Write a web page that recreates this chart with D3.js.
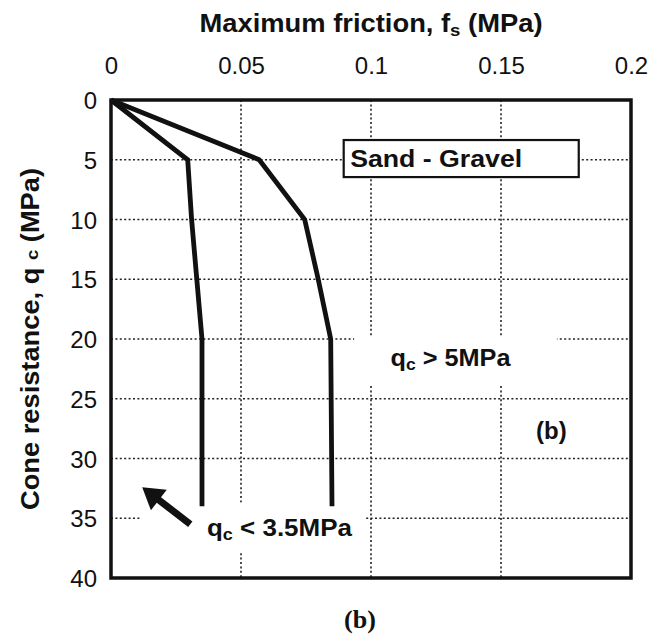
<!DOCTYPE html>
<html>
<head>
<meta charset="utf-8">
<script src="https://cdn.jsdelivr.net/npm/d3@7/dist/d3.min.js"></script>
<style>
  html, body { margin: 0; padding: 0; background: #fff; }
  svg { display: block; }
</style>
</head>
<body>
<svg id="chart" width="654" height="641"></svg>
<script>
// ---- data ----
const xTicks = [0, 0.05, 0.1, 0.15, 0.2];
const xTickLabels = ["0", "0.05", "0.1", "0.15", "0.2"];
const yTicks = [0, 5, 10, 15, 20, 25, 30, 35, 40];
const gridX = [0.05, 0.1, 0.15];
const gridY = [5, 10, 15, 20, 25, 30, 35];
// qc < 3.5 MPa curve: friction fs (MPa) vs cone resistance qc (MPa)
const lowFs = [0, 0.0295, 0.031, 0.033, 0.035, 0.035];
const lowQc = [0, 5, 10, 15, 20, 34];
// qc > 5 MPa curve
const highFs = [0, 0.057, 0.0745, 0.0797, 0.0845, 0.085];
const highQc = [0, 5, 10, 15, 20, 34];

const svg = d3.select("#chart");
const x = d3.scaleLinear().domain([0, 0.2]).range([111, 631]);
const y = d3.scaleLinear().domain([0, 40]).range([100, 578]);
const sans = "'Liberation Sans', Arial, Helvetica, sans-serif";

// grid
const grid = svg.append("g").attr("stroke", "#222").attr("stroke-width", 1.6)
  .attr("stroke-dasharray", "2,2.4");
grid.selectAll("line.gx").data(gridX).enter().append("line")
  .attr("x1", d => x(d)).attr("x2", d => x(d)).attr("y1", y(0)).attr("y2", y(40));
grid.selectAll("line.gy").data(gridY).enter().append("line")
  .attr("y1", d => y(d)).attr("y2", d => y(d)).attr("x1", x(0)).attr("x2", x(0.2));

// white backgrounds behind labels (break gridlines like the original)
const bgs = [
  {x0: 0.0935, x1: 0.1715, y0: 19.8, y1: 23.8},
  {x0: 0.0112, x1: 0.0975, y0: 33.7, y1: 37.8}
];
svg.selectAll("rect.bg").data(bgs).enter().append("rect")
  .attr("x", d => x(d.x0)).attr("y", d => y(d.y0))
  .attr("width", d => x(d.x1) - x(d.x0)).attr("height", d => y(d.y1) - y(d.y0))
  .attr("fill", "#fff");

// frame
svg.append("rect").attr("x", x(0)).attr("y", y(0))
  .attr("width", x(0.2) - x(0)).attr("height", y(40) - y(0))
  .attr("fill", "none").attr("stroke", "#111").attr("stroke-width", 3.5);

// curves
const line = d3.line().x(d => x(d[0])).y(d => y(d[1]));
[[lowFs, lowQc], [highFs, highQc]].forEach(([fs, qc]) => {
  svg.append("path").datum(fs.map((f, i) => [f, qc[i]]))
    .attr("d", line).attr("fill", "none").attr("stroke", "#111")
    .attr("stroke-width", 4.8).attr("stroke-linejoin", "miter");
});

// axes (labels only)
const xAxis = d3.axisTop(x).tickValues(xTicks).tickSize(0).tickPadding(0)
  .tickFormat((d, i) => xTickLabels[i]);
const gx = svg.append("g").attr("transform", "translate(0,74)").call(xAxis);
gx.select(".domain").remove();
gx.selectAll("text").attr("font-family", sans).attr("font-size", 24)
  .attr("fill", "#111").attr("dy", 0);

const yAxis = d3.axisLeft(y).tickValues(yTicks).tickSize(0).tickPadding(0);
const gy = svg.append("g").attr("transform", "translate(97,0)").call(yAxis);
gy.select(".domain").remove();
gy.selectAll("text").attr("font-family", sans).attr("font-size", 24)
  .attr("fill", "#111").attr("dy", "0.36em");

// axis titles
const xt = svg.append("text").attr("x", 371).attr("y", 32)
  .attr("text-anchor", "middle").attr("font-family", sans).attr("font-weight", "bold")
  .attr("font-size", 25).attr("fill", "#111")
  .attr("textLength", 343).attr("lengthAdjust", "spacingAndGlyphs");
xt.append("tspan").text("Maximum friction, f");
xt.append("tspan").attr("font-size", 17).attr("dy", 4).text("s");
xt.append("tspan").attr("dy", -4).text(" (MPa)");

const yt = svg.append("text").attr("transform", "translate(39,339) rotate(-90)")
  .attr("text-anchor", "middle").attr("font-family", sans).attr("font-weight", "bold")
  .attr("font-size", 25).attr("fill", "#111")
  .attr("textLength", 342).attr("lengthAdjust", "spacingAndGlyphs");
yt.append("tspan").text("Cone resistance, q ");
yt.append("tspan").attr("font-size", 17).attr("dy", -1).text("c");
yt.append("tspan").attr("dy", 1).text(" (MPa)");

// Sand - Gravel box
svg.append("rect").attr("x", x(0.0895)).attr("y", y(3.35))
  .attr("width", x(0.1799) - x(0.0895)).attr("height", y(6.45) - y(3.35))
  .attr("fill", "#fff").attr("stroke", "#111").attr("stroke-width", 2.2);
svg.append("text").attr("x", x(0.0920)).attr("y", y(5.62))
  .attr("font-family", sans).attr("font-weight", "bold").attr("font-size", 24)
  .attr("fill", "#111").attr("textLength", 172).attr("lengthAdjust", "spacingAndGlyphs")
  .text("Sand - Gravel");

// qc > 5MPa
const t1 = svg.append("text").attr("x", x(0.1075)).attr("y", y(22.3))
  .attr("font-family", sans).attr("font-weight", "bold").attr("font-size", 23)
  .attr("fill", "#111").attr("textLength", 120).attr("lengthAdjust", "spacingAndGlyphs");
t1.append("tspan").text("q");
t1.append("tspan").attr("font-size", 16).attr("dy", 4).text("c");
t1.append("tspan").attr("dy", -4).text(" > 5MPa");

// qc < 3.5MPa
const t2 = svg.append("text").attr("x", x(0.0369)).attr("y", y(36.5))
  .attr("font-family", sans).attr("font-weight", "bold").attr("font-size", 23)
  .attr("fill", "#111").attr("textLength", 145).attr("lengthAdjust", "spacingAndGlyphs");
t2.append("tspan").text("q");
t2.append("tspan").attr("font-size", 16).attr("dy", 4).text("c");
t2.append("tspan").attr("dy", -4).text(" < 3.5MPa");

// (b) inside
svg.append("text").attr("x", x(0.1635)).attr("y", y(28.4))
  .attr("font-family", sans).attr("font-weight", "bold").attr("font-size", 24)
  .attr("fill", "#111").text("(b)");

// arrow
const arrowTail = [0.0305, 35.5];
const arrowTip = [0.0120, 32.4];
const ax0 = x(arrowTail[0]), ay0 = y(arrowTail[1]);
const ax1 = x(arrowTip[0]), ay1 = y(arrowTip[1]);
const ang = Math.atan2(ay1 - ay0, ax1 - ax0);
const headLen = 21, headW = 13;
const bx = ax1 - headLen * Math.cos(ang), by = ay1 - headLen * Math.sin(ang);
svg.append("line").attr("x1", ax0).attr("y1", ay0).attr("x2", bx + 2 * Math.cos(ang)).attr("y2", by + 2 * Math.sin(ang))
  .attr("stroke", "#111").attr("stroke-width", 7);
svg.append("polygon").attr("fill", "#111").attr("points", [
  [ax1, ay1],
  [bx + headW * Math.sin(ang), by - headW * Math.cos(ang)],
  [bx - headW * Math.sin(ang), by + headW * Math.cos(ang)]
].map(p => p.join(",")).join(" "));

// caption
svg.append("text").attr("x", 360).attr("y", 628).attr("text-anchor", "middle")
  .attr("font-family", "'Liberation Serif', 'Times New Roman', serif")
  .attr("font-weight", "bold").attr("font-size", 26).attr("fill", "#111").text("(b)");
</script>
</body>
</html>
